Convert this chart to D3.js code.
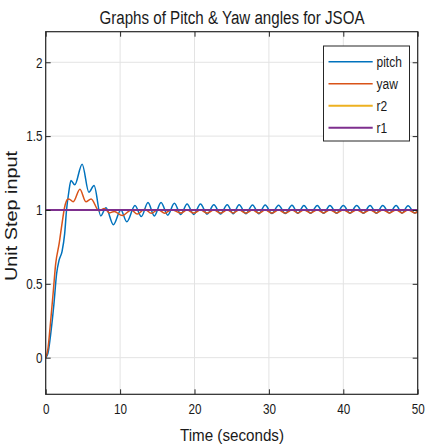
<!DOCTYPE html>
<html>
<head>
<meta charset="utf-8">
<script src="https://cdn.jsdelivr.net/npm/d3@7"></script>
<style>
  html, body { margin: 0; padding: 0; background: #fff; }
  text { font-family: "Liberation Sans", Arial, sans-serif; fill: #1a1a1a; }
</style>
</head>
<body>
<svg id="chart" width="425" height="447"></svg>
<script>
// ---- data ----
const pitchT = [0,0.3,0.67,1.1,1.47,1.8,2.2,2.55,2.8,3.1,3.4,3.9,4.9,5.8,6.5,7.4,8.1,9.1,10.1,10.9,12.0,12.85,13.75,14.6,15.5,16.4,17.3,18.15,19.0,19.9,20.8,21.7,22.6,23.5,24.4,25.2,26.0,26.9,27.8,28.65,29.5,30.4,31.3,32.2,33.1,33.9,34.7,35.6,36.5,37.35,38.2,39.1,40.0,40.9,41.8,42.7,43.6,44.45,45.3,46.2,47.1,47.9,48.7,49.6,50];
const pitchV = [0,0.03,0.16,0.36,0.57,0.66,0.72,0.84,1.0,1.12,1.2,1.17,1.31,1.12,1.165,0.96,1.015,0.90,1.0,0.92,1.03,0.955,1.05,0.96,1.05,0.965,1.045,0.97,1.04,0.97,1.04,0.972,1.035,0.973,1.035,0.974,1.035,0.975,1.033,0.975,1.033,0.976,1.032,0.976,1.032,0.977,1.03,0.977,1.03,0.977,1.03,0.978,1.03,0.978,1.03,0.978,1.03,0.978,1.03,0.979,1.03,0.979,1.028,0.98,0.99];

const yawT = [0,0.3,0.58,1.03,1.34,1.8,2.2,2.55,2.9,3.1,3.7,4.6,5.4,6.1,7.15,7.9,8.6,9.2,10.3,11.5,12.3,13.3,14.2,15.1,16.0,16.9,17.8,18.15,19.0,19.9,20.8,21.7,22.6,23.5,24.4,25.2,26.0,26.9,27.8,28.65,29.5,30.4,31.3,32.2,33.1,33.9,34.7,35.6,36.5,37.35,38.2,39.1,40.0,40.9,41.8,42.7,43.6,44.45,45.3,46.2,47.1,47.9,48.7,49.6,50];
const yawV = [0,0.06,0.2,0.455,0.635,0.77,0.91,1.02,1.07,1.075,1.056,1.14,1.056,1.075,0.995,1.01,0.98,0.99,0.962,1.0,0.972,1.005,0.977,1.003,0.978,1.002,0.985,0.979,1.0,0.979,1.0,0.979,1.0,0.979,1.0,0.979,1.0,0.979,1.0,0.979,1.0,0.979,1.0,0.979,1.0,0.979,1.0,0.98,1.0,0.98,1.0,0.98,1.0,0.98,1.0,0.98,1.0,0.98,1.0,0.98,1.0,0.98,1.0,0.98,0.99];

const r2T = [0, 50];
const r2V = [1, 1];
const r1T = [0, 50];
const r1V = [1, 1];

const xTicks = [0, 10, 20, 30, 40, 50];
const yTicks = [0, 0.5, 1, 1.5, 2];
const seriesNames = ["pitch", "yaw", "r2", "r1"];
const seriesColors = ["#0072BD", "#D95319", "#EDB120", "#7E2F8E"];

const titleText = "Graphs of Pitch & Yaw angles for JSOA";
const xLabelText = "Time (seconds)";
const yLabelText = "Unit Step input";

// ---- layout ----
const svg = d3.select("#chart");
const L = 45.7, R = 417.7, T = 31.7, B = 394.3;
const x = d3.scaleLinear().domain([0, 50]).range([L, R]);
const y = d3.scaleLinear().domain([-0.248, 2.207]).range([B, T]);

svg.append("rect").attr("width", 425).attr("height", 447).attr("fill", "#fff");

// grid
const grid = svg.append("g");
grid.selectAll("line.gx").data(xTicks).enter().append("line")
  .attr("x1", d => x(d)).attr("x2", d => x(d)).attr("y1", T).attr("y2", B)
  .attr("stroke", "#e3e3e3").attr("stroke-width", 1);
grid.selectAll("line.gy").data(yTicks).enter().append("line")
  .attr("x1", L).attr("x2", R).attr("y1", d => y(d)).attr("y2", d => y(d))
  .attr("stroke", "#e3e3e3").attr("stroke-width", 1);

// clip
svg.append("defs").append("clipPath").attr("id", "clip")
  .append("rect").attr("x", L).attr("y", T).attr("width", R - L).attr("height", B - T);

const line = d3.line().x(d => x(d[0])).y(d => y(d[1])).curve(d3.curveMonotoneX);
const zip = (a, b) => a.map((t, i) => [t, b[i]]);
const series = [
  {name: "pitch", data: zip(pitchT, pitchV), w: 1.5},
  {name: "yaw", data: zip(yawT, yawV), w: 1.5},
  {name: "r2", data: zip(r2T, r2V), w: 2},
  {name: "r1", data: zip(r1T, r1V), w: 2}
];
const plot = svg.append("g").attr("clip-path", "url(#clip)");
series.forEach((s, i) => {
  plot.append("path").datum(s.data).attr("d", line)
    .attr("fill", "none").attr("stroke", seriesColors[i]).attr("stroke-width", s.w)
    .attr("stroke-linejoin", "round");
});

// axes (ticks inward, box)
const sq = "scale(0.78,1)";
const ax = svg.append("g").attr("transform", `translate(0,${B})`)
  .call(d3.axisBottom(x).tickValues(xTicks).tickSize(-5).tickPadding(9).tickFormat(d3.format("d")));
ax.selectAll("text").attr("font-size", 15).attr("transform", sq).style("font-family", "'Liberation Sans', Arial, sans-serif").attr("fill", "#1a1a1a");
const ay = svg.append("g").attr("transform", `translate(${L},0)`)
  .call(d3.axisLeft(y).tickValues(yTicks).tickSize(-5).tickPadding(4).tickFormat(d => d3.format("")(d)));
ay.selectAll("text").attr("font-size", 15).attr("transform", sq).style("font-family", "'Liberation Sans', Arial, sans-serif").attr("fill", "#1a1a1a");
svg.append("g").attr("transform", `translate(0,${T})`)
  .call(d3.axisTop(x).tickValues(xTicks).tickSize(-5).tickFormat(""));
svg.append("g").attr("transform", `translate(${R},0)`)
  .call(d3.axisRight(y).tickValues(yTicks).tickSize(-5).tickFormat(""));
svg.selectAll(".domain").remove();
svg.selectAll(".tick line").attr("stroke", "#262626");
svg.append("rect").attr("x", L).attr("y", T).attr("width", R - L).attr("height", B - T)
  .attr("fill", "none").attr("stroke", "#262626").attr("stroke-width", 1.2);

// title & labels
svg.append("text").attr("x", 232).attr("y", 24).attr("text-anchor", "middle")
  .attr("font-size", 18).attr("textLength", 265).attr("lengthAdjust", "spacingAndGlyphs").text(titleText);
svg.append("text").attr("x", 232).attr("y", 441).attr("text-anchor", "middle")
  .attr("font-size", 17).attr("textLength", 104).attr("lengthAdjust", "spacingAndGlyphs").text(xLabelText);
svg.append("text").attr("transform", "translate(17,216) rotate(-90)").attr("text-anchor", "middle")
  .attr("font-size", 16).attr("textLength", 130).attr("lengthAdjust", "spacingAndGlyphs").text(yLabelText);

// legend
const lg = svg.append("g");
lg.append("rect").attr("x", 323.5).attr("y", 46).attr("width", 86).attr("height", 95)
  .attr("fill", "#fff").attr("stroke", "#262626").attr("stroke-width", 1);
seriesNames.forEach((n, i) => {
  const yy = 61.7 + i * 22;
  lg.append("line").attr("x1", 328.5).attr("x2", 372.7).attr("y1", yy).attr("y2", yy)
    .attr("stroke", seriesColors[i]).attr("stroke-width", i >= 2 ? 2 : 1.5);
  lg.append("text").attr("transform", `translate(376.5,${yy + 5}) scale(0.8,1)`)
    .attr("font-size", 15).text(n);
});
</script>
</body>
</html>
